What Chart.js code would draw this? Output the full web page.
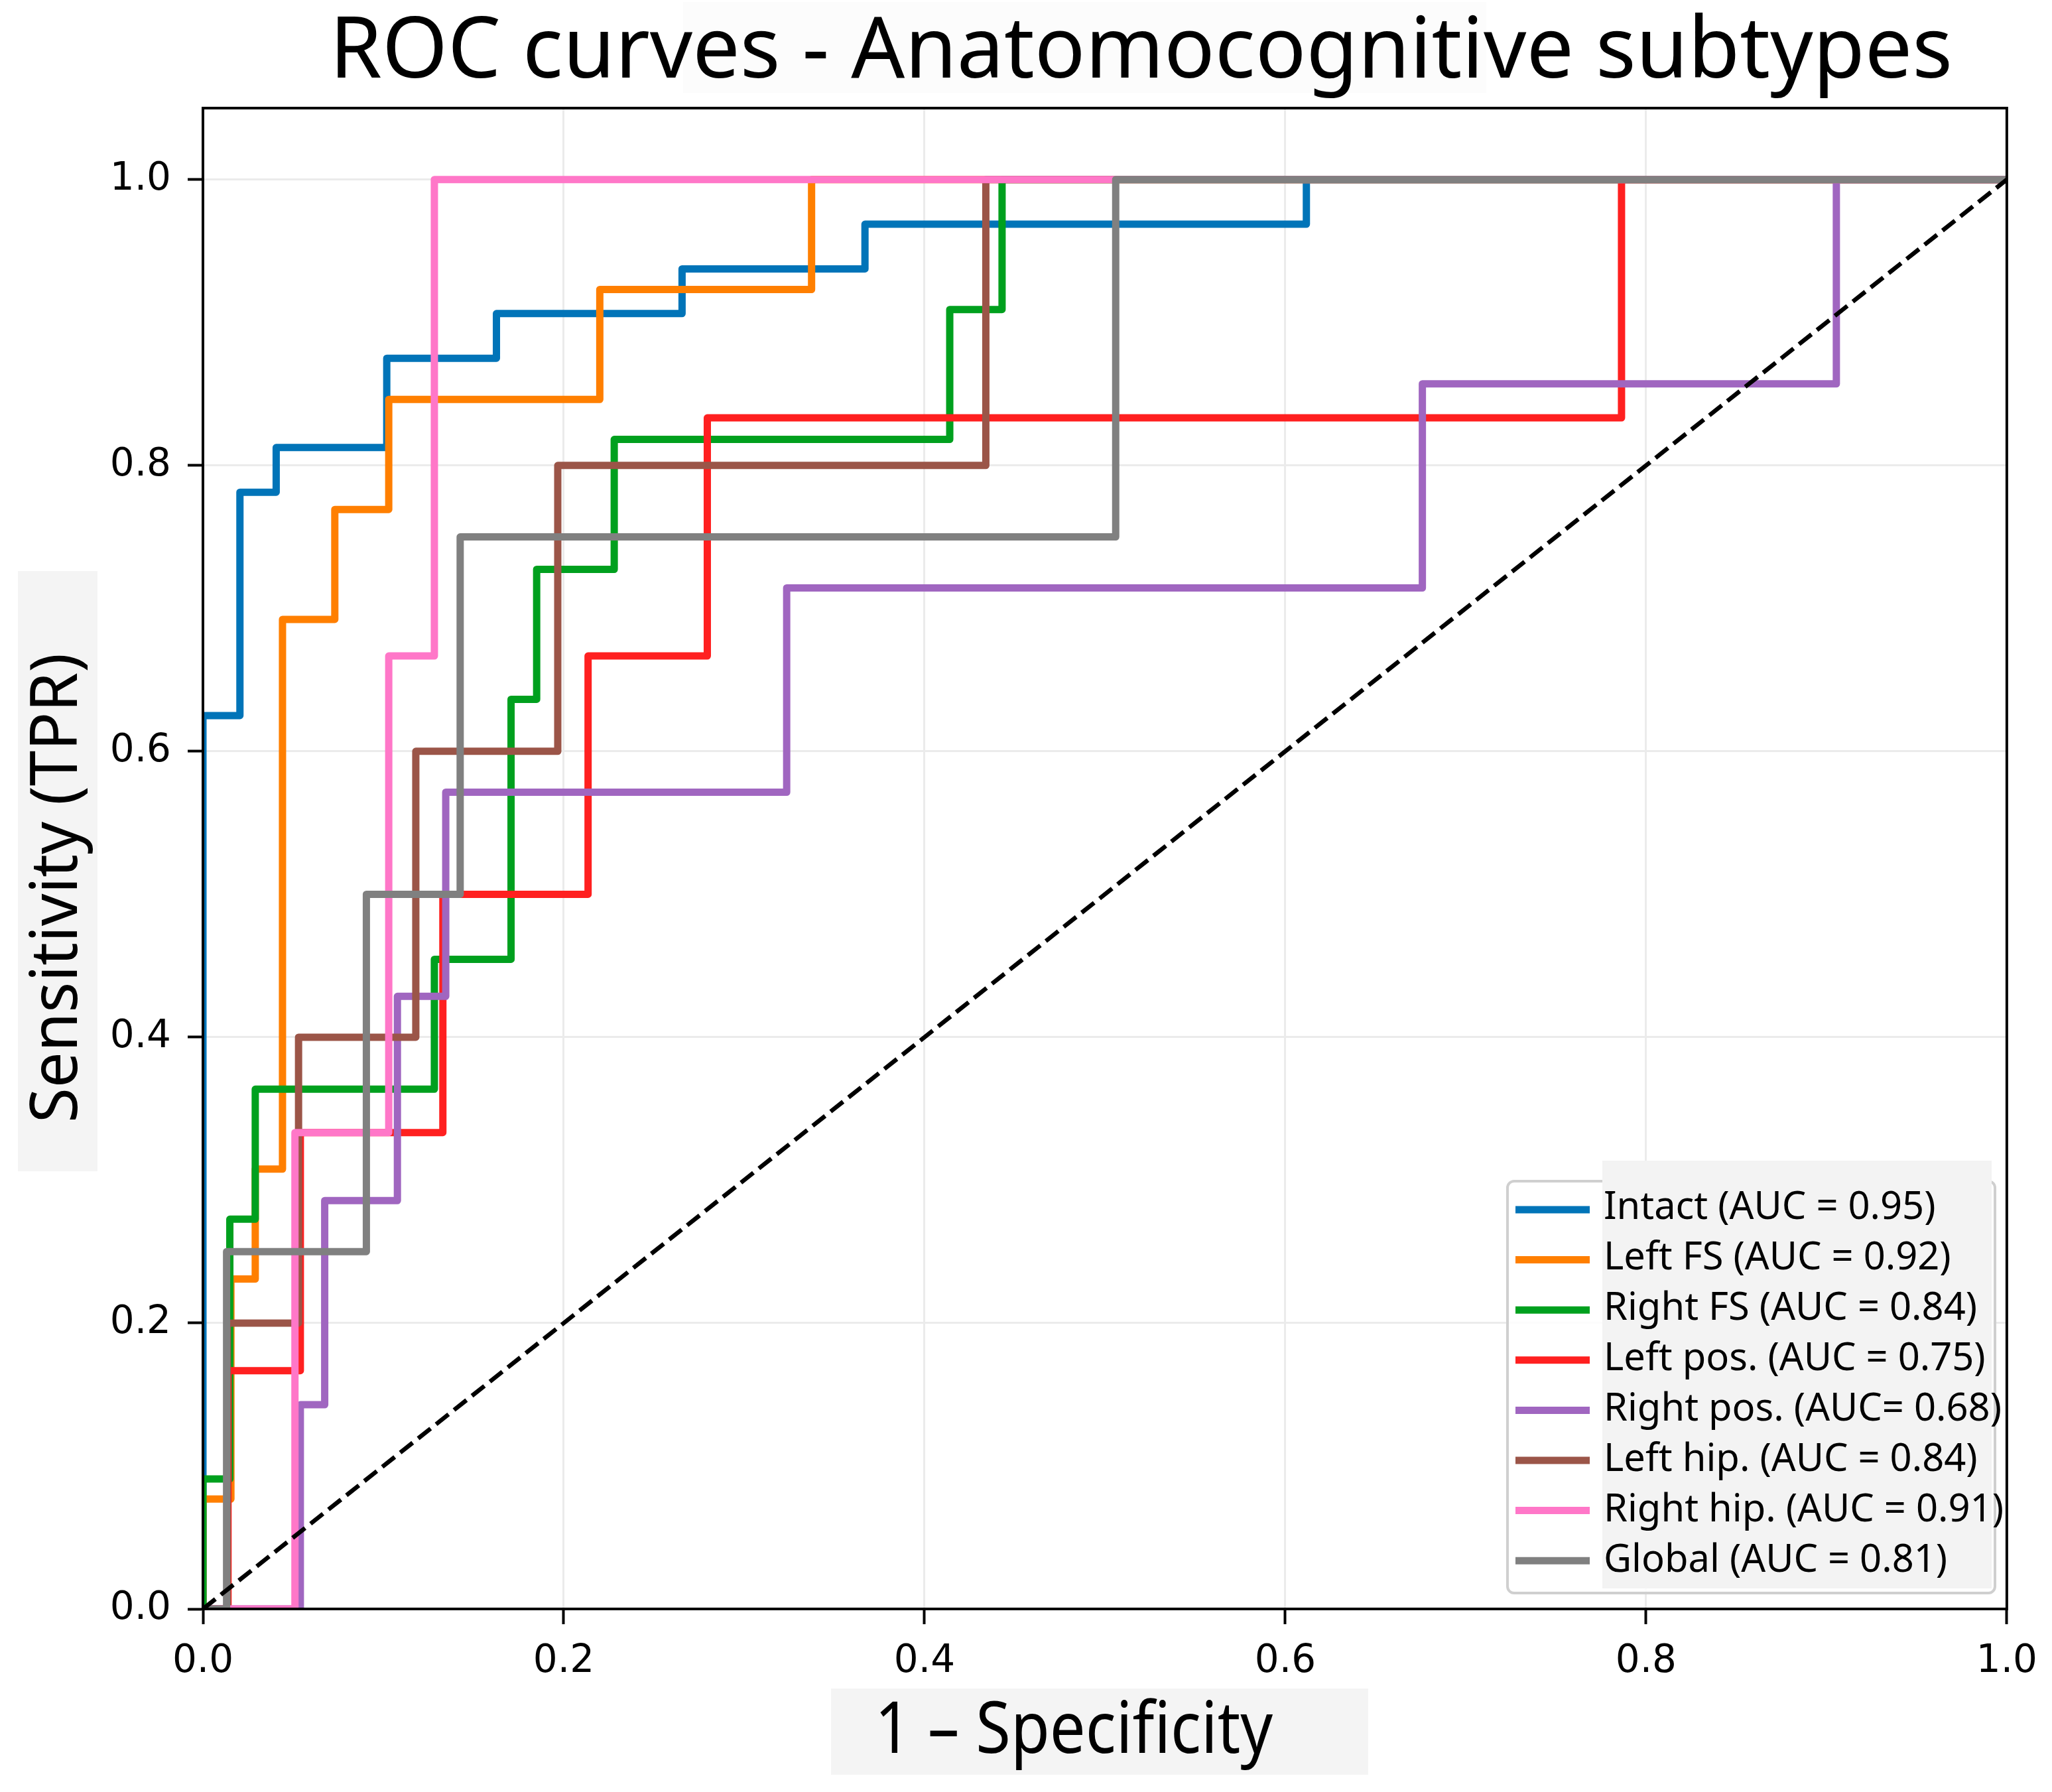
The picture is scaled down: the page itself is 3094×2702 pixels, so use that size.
<!DOCTYPE html>
<html>
<head>
<meta charset="utf-8">
<title>ROC curves - Anatomocognitive subtypes</title>
<script src="https://cdn.jsdelivr.net/npm/chart.js@4.4.1/dist/chart.umd.min.js"></script>
<style>
  html, body { margin: 0; padding: 0; background: #fff; }
  #wrap { width: 3094px; height: 2702px; }
</style>
</head>
<body>
<div id="wrap"><canvas id="roc" width="3094" height="2702"></canvas></div>
<script>
// series: fpr = 1 - specificity, tpr = sensitivity
const seriesLabels = [
  "Intact (AUC = 0.95)",
  "Left FS (AUC = 0.92)",
  "Right FS (AUC = 0.84)",
  "Left pos. (AUC = 0.75)",
  "Right pos. (AUC= 0.68)",
  "Left hip. (AUC = 0.84)",
  "Right hip. (AUC = 0.91)",
  "Global (AUC = 0.81)"
];
const seriesColors = ["#0174b8", "#ff7f00", "#00a01e", "#ff2020", "#a066c0", "#9b5548", "#ff77c8", "#808080"];

const fprIntact = [0, 0, 0.0205, 0.0406, 0.1019, 0.1627, 0.2656, 0.367, 0.6117, 1];
const tprIntact = [0, 0.625, 0.78125, 0.8125, 0.875, 0.90625, 0.9375, 0.96875, 1, 1];

const fprLeftFS = [0, 0, 0.0155, 0.029, 0.0441, 0.0731, 0.103, 0.22, 0.3374, 1];
const tprLeftFS = [0, 0.0769, 0.2308, 0.3077, 0.6923, 0.7692, 0.8462, 0.9231, 1, 1];

const fprRightFS = [0, 0, 0.0149, 0.029, 0.1283, 0.1708, 0.185, 0.228, 0.414, 0.443, 1];
const tprRightFS = [0, 0.0909, 0.2727, 0.3636, 0.4545, 0.6364, 0.7273, 0.8182, 0.9091, 1, 1];

const fprLeftPos = [0, 0.0139, 0.054, 0.133, 0.2135, 0.2796, 0.7864, 1];
const tprLeftPos = [0, 0.1667, 0.3333, 0.5, 0.6667, 0.8333, 1, 1];

const fprRightPos = [0, 0.054, 0.0675, 0.1078, 0.1346, 0.3236, 0.676, 0.9055, 1];
const tprRightPos = [0, 0.1429, 0.2857, 0.4286, 0.5714, 0.7143, 0.8571, 1, 1];

const fprLeftHip = [0, 0.0135, 0.053, 0.118, 0.1967, 0.434, 1];
const tprLeftHip = [0, 0.2, 0.4, 0.6, 0.8, 1, 1];

const fprRightHip = [0, 0.051, 0.103, 0.1283, 1];
const tprRightHip = [0, 0.3333, 0.6667, 1, 1];

const fprGlobal = [0, 0.0131, 0.0906, 0.1426, 0.506, 1];
const tprGlobal = [0, 0.25, 0.5, 0.75, 1, 1];

const chanceX = [0, 1];
const chanceY = [0, 1];

const xTicks = [0, 0.2, 0.4, 0.6, 0.8, 1.0];
const yTicks = [0, 0.2, 0.4, 0.6, 0.8, 1.0];

const titleText = "ROC curves - Anatomocognitive subtypes";
const xTitle = "1 \u2013 Specificity";
const yTitle = "Sensitivity (TPR)";

const allFpr = [fprIntact, fprLeftFS, fprRightFS, fprLeftPos, fprRightPos, fprLeftHip, fprRightHip, fprGlobal];
const allTpr = [tprIntact, tprLeftFS, tprRightFS, tprLeftPos, tprRightPos, tprLeftHip, tprRightHip, tprGlobal];

const toPoints = (xs, ys) => xs.map((x, i) => ({ x: x, y: ys[i] }));

const nSeries = seriesLabels.length;
const datasets = seriesLabels.map((label, i) => ({
  label: label,
  data: toPoints(allFpr[i], allTpr[i]),
  borderColor: seriesColors[i],
  backgroundColor: seriesColors[i],
  borderWidth: 11,
  stepped: "before",
  pointRadius: 0,
  fill: false,
  clip: 0,
  borderJoinStyle: "round",
  order: nSeries - i + 1
}));
datasets.push({
  label: "chance",
  data: toPoints(chanceX, chanceY),
  borderColor: "#000",
  borderWidth: 6.5,
  borderDash: [24, 10.5],
  pointRadius: 0,
  fill: false,
  clip: 0,
  order: 0
});

const sansFont = "'Noto Sans', 'Open Sans', sans-serif";

// draws text with cap height capPx and stretched to widthPx
const fitText = (ctx, text, x, y, capPx, widthPx) => {
  const size = capPx / 0.714;
  ctx.font = size + "px " + sansFont;
  const w = ctx.measureText(text).width;
  ctx.save();
  ctx.translate(x, y);
  ctx.scale(widthPx / w, 1);
  ctx.textAlign = "left";
  ctx.textBaseline = "alphabetic";
  ctx.fillText(text, 0, 0);
  ctx.restore();
};

const overlay = {
  id: "overlay",
  beforeDraw(chart) {
    const ctx = chart.ctx;
    ctx.save();
    ctx.fillStyle = "#fff";
    ctx.fillRect(0, 0, chart.width, chart.height);
    ctx.restore();
  },
  afterDatasetsDraw(chart) {
    const ctx = chart.ctx;
    const a = chart.chartArea;
    ctx.save();
    ctx.strokeStyle = "#000";
    ctx.lineWidth = 4;
    ctx.strokeRect(a.left, a.top, a.right - a.left, a.bottom - a.top);
    ctx.restore();
  },
  afterDraw(chart) {
    const ctx = chart.ctx;
    ctx.save();
    ctx.fillStyle = "#000";

    // title
    ctx.fillStyle = "#fcfcfc";
    ctx.fillRect(1030, 3, 1211, 137);
    ctx.fillStyle = "#000";
    fitText(ctx, titleText, 497, 117, 92, 2447);

    // x axis title
    ctx.fillStyle = "#f4f4f4";
    ctx.fillRect(1253, 2546, 810, 130);
    ctx.fillStyle = "#000";
    fitText(ctx, xTitle, 1319, 2643, 77, 600);

    // y axis title
    ctx.fillStyle = "#f4f4f4";
    ctx.fillRect(27, 861, 120, 905);
    ctx.fillStyle = "#000";
    ctx.save();
    ctx.translate(116, 1693);
    ctx.rotate(-Math.PI / 2);
    fitText(ctx, yTitle, 0, 0, 71, 708);
    ctx.restore();

    // legend frame
    ctx.fillStyle = "rgba(255,255,255,0.85)";
    ctx.strokeStyle = "#cfcfcf";
    ctx.lineWidth = 4;
    ctx.beginPath();
    ctx.roundRect(2273, 1781, 735, 621, 10);
    ctx.fill();
    ctx.stroke();
    ctx.fillStyle = "#f3f3f3";
    ctx.fillRect(2416, 1750, 587, 645);

    // legend handles and text
    ctx.font = (42 / 0.714) + "px " + sansFont;
    const sx = 600 / ctx.measureText(seriesLabels[4]).width;
    seriesLabels.forEach((label, i) => {
      const hy = 1824 + 75.6 * i;
      ctx.strokeStyle = seriesColors[i];
      ctx.lineWidth = 11;
      ctx.beginPath();
      ctx.moveTo(2285, hy);
      ctx.lineTo(2397, hy);
      ctx.stroke();
      ctx.save();
      ctx.fillStyle = "#000";
      ctx.translate(2418, 1838 + 76 * i);
      ctx.scale(sx, 1);
      ctx.textAlign = "left";
      ctx.textBaseline = "alphabetic";
      ctx.fillText(label, 0, 0);
      ctx.restore();
    });
    ctx.restore();
  }
};

const tickFont = { family: "'DejaVu Sans'", size: 58 };

new Chart(document.getElementById("roc"), {
  type: "line",
  data: { datasets: datasets },
  options: {
    responsive: false,
    animation: false,
    devicePixelRatio: 1,
    layout: { padding: { top: 163, right: 61, left: 0, bottom: 0 } },
    plugins: {
      legend: { display: false },
      title: { display: false },
      tooltip: { enabled: false }
    },
    scales: {
      x: {
        type: "linear",
        min: 0,
        max: 1,
        afterBuildTicks: (s) => { s.ticks = xTicks.map((v) => ({ value: v })); },
        afterFit: (s) => { s.height = 276; },
        ticks: {
          color: "#000",
          font: tickFont,
          padding: 22,
          maxRotation: 0,
          callback: (v) => Number(v).toFixed(1)
        },
        grid: {
          color: "#ebebeb",
          lineWidth: 3,
          drawTicks: true,
          tickLength: 23,
          tickColor: "#000",
          tickWidth: 4
        },
        border: { display: true, color: "#000", width: 4 }
      },
      y: {
        type: "linear",
        min: 0,
        max: 1.05,
        afterBuildTicks: (s) => { s.ticks = yTicks.map((v) => ({ value: v })); },
        afterFit: (s) => { s.width = 306; },
        ticks: {
          color: "#000",
          font: tickFont,
          padding: 25,
          callback: (v) => Number(v).toFixed(1)
        },
        grid: {
          color: "#ebebeb",
          lineWidth: 3,
          drawTicks: true,
          tickLength: 23,
          tickColor: "#000",
          tickWidth: 4
        },
        border: { display: true, color: "#000", width: 4 }
      }
    }
  },
  plugins: [overlay]
});
</script>
</body>
</html>
